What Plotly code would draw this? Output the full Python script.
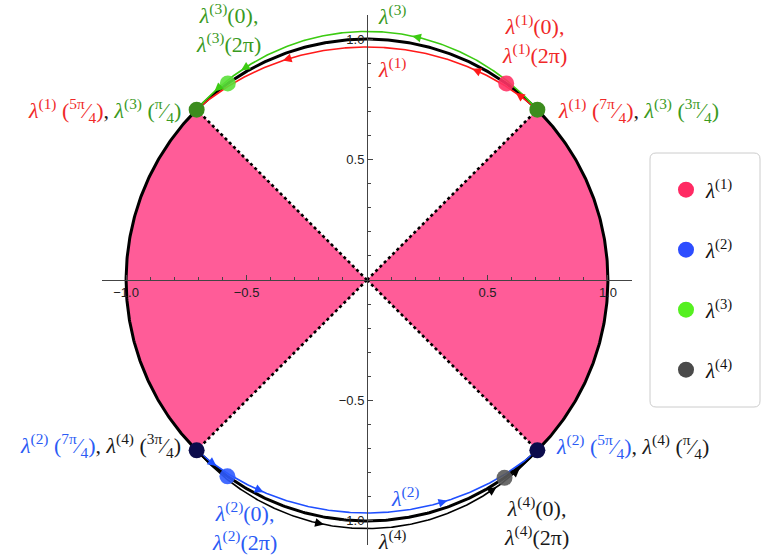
import numpy as np
import plotly.graph_objects as go

# ---------------- data ----------------
series_names = ["<i>λ</i><sup>(1)</sup>", "<i>λ</i><sup>(2)</sup>", "<i>λ</i><sup>(3)</sup>", "<i>λ</i><sup>(4)</sup>"]
legend_colors = ["#FF2A63", "#2D4DFF", "#55F020", "#4A4A4A"]
curve_colors = ["#FF1A1A", "#1F4FFF", "#3CCB12", "#000000"]
label_colors = ["#F02828", "#2B5BF5", "#3A9A1E", "#1A1A1A"]
dot_colors = ["#FF3366", "#2F5BFF", "#5BE03A", "#5A5A5A"]

arc_start_deg = [45, 225, 45, 225]
arc_end_deg = [135, 315, 135, 315]
arc_offset = [-0.033, -0.033, 0.032, 0.032]
start_point_deg = [54.7, 234.6, 125.3, 304.8]
arrow_deg = [[51.5, 63.5, 111.0], [231.0, 244.0, 290.0], [79.5, 121.0, 129.0], [260.0, 302.0, 309.0]]

junction_deg = [45, 135, 225, 315]
junction_colors = ["#3C8C1E", "#3C8C1E", "#0C0C4C", "#0C0C4C"]
sector_deg = [(-45, 45), (135, 225)]

x_tick_vals = [-1.0, -0.5, 0.5, 1.0]
x_tick_text = ["−1.0", "−0.5", "0.5", "1.0"]
y_tick_vals = [-1.0, -0.5, 0.5, 1.0]
y_tick_text = ["−1.0", "−0.5", "0.5", "1.0"]
minor_vals = [round(v, 1) for v in np.arange(-1.1, 1.11, 0.1)]

PINK = "#FF5C98"
SERIF = "Liberation Serif"

fig = go.Figure()

# pink sectors
for a0, a1 in sector_deg:
    t = np.radians(np.linspace(a0, a1, 120))
    xs = np.concatenate([[0], np.cos(t), [0]])
    ys = np.concatenate([[0], np.sin(t), [0]])
    fig.add_trace(go.Scatter(x=xs, y=ys, mode="lines", fill="toself", fillcolor=PINK,
                             line=dict(width=0, color=PINK), showlegend=False, hoverinfo="skip"))

# dotted radial boundaries
for a in junction_deg:
    r = np.radians(a)
    fig.add_trace(go.Scatter(x=[0, np.cos(r)], y=[0, np.sin(r)], mode="lines",
                             line=dict(color="black", width=2.6, dash="dot"),
                             showlegend=False, hoverinfo="skip"))

# unit circle
t = np.radians(np.linspace(0, 360, 721))
fig.add_trace(go.Scatter(x=np.cos(t), y=np.sin(t), mode="lines",
                         line=dict(color="black", width=3), showlegend=False, hoverinfo="skip"))


def radius(i, deg):
    phase = np.radians(deg - arc_start_deg[i]) * 180.0 / (arc_end_deg[i] - arc_start_deg[i])
    return 1 + arc_offset[i] * np.sin(phase)


# eigenvalue paths
for i in range(4):
    d = np.linspace(arc_start_deg[i], arc_end_deg[i], 300)
    r = radius(i, d)
    fig.add_trace(go.Scatter(x=r * np.cos(np.radians(d)), y=r * np.sin(np.radians(d)), mode="lines",
                             line=dict(color=curve_colors[i], width=1.6), showlegend=False, hoverinfo="skip"))

annotations = []
# arrows along paths
for i in range(4):
    for a in arrow_deg[i]:
        rh = radius(i, a)
        rt = radius(i, a - 2.5)
        annotations.append(dict(
            x=rh * np.cos(np.radians(a)), y=rh * np.sin(np.radians(a)),
            ax=rt * np.cos(np.radians(a - 2.5)), ay=rt * np.sin(np.radians(a - 2.5)),
            xref="x", yref="y", axref="x", ayref="y", text="", showarrow=True,
            arrowhead=2, arrowsize=1.1, arrowwidth=1.6, arrowcolor=curve_colors[i], standoff=0))

# start points lambda(0)
for i in range(4):
    a = np.radians(start_point_deg[i])
    fig.add_trace(go.Scatter(x=[np.cos(a)], y=[np.sin(a)], mode="markers",
                             marker=dict(size=16, color=dot_colors[i], opacity=0.9),
                             showlegend=False, hoverinfo="skip"))

# junction points
for a, c in zip(junction_deg, junction_colors):
    r = np.radians(a)
    fig.add_trace(go.Scatter(x=[np.cos(r)], y=[np.sin(r)], mode="markers",
                             marker=dict(size=16, color=c), showlegend=False, hoverinfo="skip"))

# legend entries (one legend per entry for exact spacing)
legend_ids = ["legend", "legend2", "legend3", "legend4"]
for i in range(4):
    fig.add_trace(go.Scatter(x=[None], y=[None], mode="markers", name=series_names[i],
                             legend=legend_ids[i], marker=dict(size=22, color=legend_colors[i])))


def L(i, arg):
    return f'<span style="color:{label_colors[i]}"><i>λ</i><sup>({i+1})</sup>{arg}</span>'


def frac(n, d):
    return f"(<sup>{n}</sup>⁄<sub>{d}</sub>)"


text_items = [
    (L(2, "(0),") + "<br>" + L(2, "(2π)"), -0.575, 1.046, "center"),
    (L(0, " " + frac("5π", "4")) + ", " + L(2, " " + frac("π", "4")), -0.762, 0.705, "right"),
    (L(2, ""), 0.039, 1.100, "left"),
    (L(0, ""), 0.039, 0.880, "left"),
    (L(0, "(0),") + "<br>" + L(0, "(2π)"), 0.695, 0.997, "center"),
    (L(0, " " + frac("7π", "4")) + ", " + L(2, " " + frac("3π", "4")), 0.786, 0.705, "left"),
    (L(1, " " + frac("7π", "4")) + ", " + L(3, " " + frac("3π", "4")), -0.762, -0.685, "right"),
    (L(1, "(0),") + "<br>" + L(1, "(2π)"), -0.508, -1.025, "center"),
    (L(1, ""), 0.093, -0.900, "left"),
    (L(3, ""), 0.039, -1.080, "left"),
    (L(3, "(0),") + "<br>" + L(3, "(2π)"), 0.703, -1.004, "center"),
    (L(1, " " + frac("5π", "4")) + ", " + L(3, " " + frac("π", "4")), 0.778, -0.693, "left"),
]
for txt, x, y, anc in text_items:
    annotations.append(dict(x=x, y=y, xref="x", yref="y", text=txt, showarrow=False,
                            xanchor=anc, yanchor="middle", align="center",
                            font=dict(family=SERIF, size=22, color="#1A1A1A")))

# rounded legend frame (paper coords; plot area = px 102..632 x 15..545)
x0, x1 = (650 - 102) / 530, (760 - 102) / 530
y1, y0 = (545 - 153) / 530, (545 - 407) / 530
rr = 6 / 530
path = (f"M {x0+rr},{y0} L {x1-rr},{y0} Q {x1},{y0} {x1},{y0+rr} L {x1},{y1-rr} Q {x1},{y1} {x1-rr},{y1} "
        f"L {x0+rr},{y1} Q {x0},{y1} {x0},{y1-rr} L {x0},{y0+rr} Q {x0},{y0} {x0+rr},{y0} Z")

axis_common = dict(range=[-1.1, 1.1], showgrid=False, zeroline=False, showline=True, automargin=False,
                   linecolor="#444444", linewidth=1, ticks="inside", ticklen=5, tickwidth=1,
                   tickcolor="#444444", tickfont=dict(family="Liberation Sans", size=13, color="#222222"),
                   anchor="free", position=0.5,
                   minor=dict(tickmode="array", tickvals=minor_vals, ticks="inside", ticklen=3,
                              tickcolor="#444444", tickwidth=1))

legend_rows_px = [190, 250, 310, 370]
legend_layout = {}
for lid, py in zip(legend_ids, legend_rows_px):
    legend_layout[lid] = dict(x=(666 - 102) / 530, y=(545 - py) / 530, xanchor="left", yanchor="middle",
                              bgcolor="rgba(0,0,0,0)", borderwidth=0,
                              font=dict(family=SERIF, size=21, color="#111111"))

fig.update_layout(
    width=763, height=559,
    margin=dict(l=102, r=131, t=15, b=14, autoexpand=False),
    paper_bgcolor="white", plot_bgcolor="white",
    xaxis=dict(tickmode="array", tickvals=x_tick_vals, ticktext=x_tick_text, **axis_common),
    yaxis=dict(tickmode="array", tickvals=y_tick_vals, ticktext=y_tick_text, **axis_common),
    showlegend=True,
    annotations=annotations,
    shapes=[dict(type="path", path=path, xref="paper", yref="paper",
                 line=dict(color="#CCCCCC", width=1), fillcolor="rgba(0,0,0,0)")],
    **legend_layout,
)

fig.write_html("out.html", config={"displayModeBar": False},
               post_script="document.body.style.margin='0px';")
